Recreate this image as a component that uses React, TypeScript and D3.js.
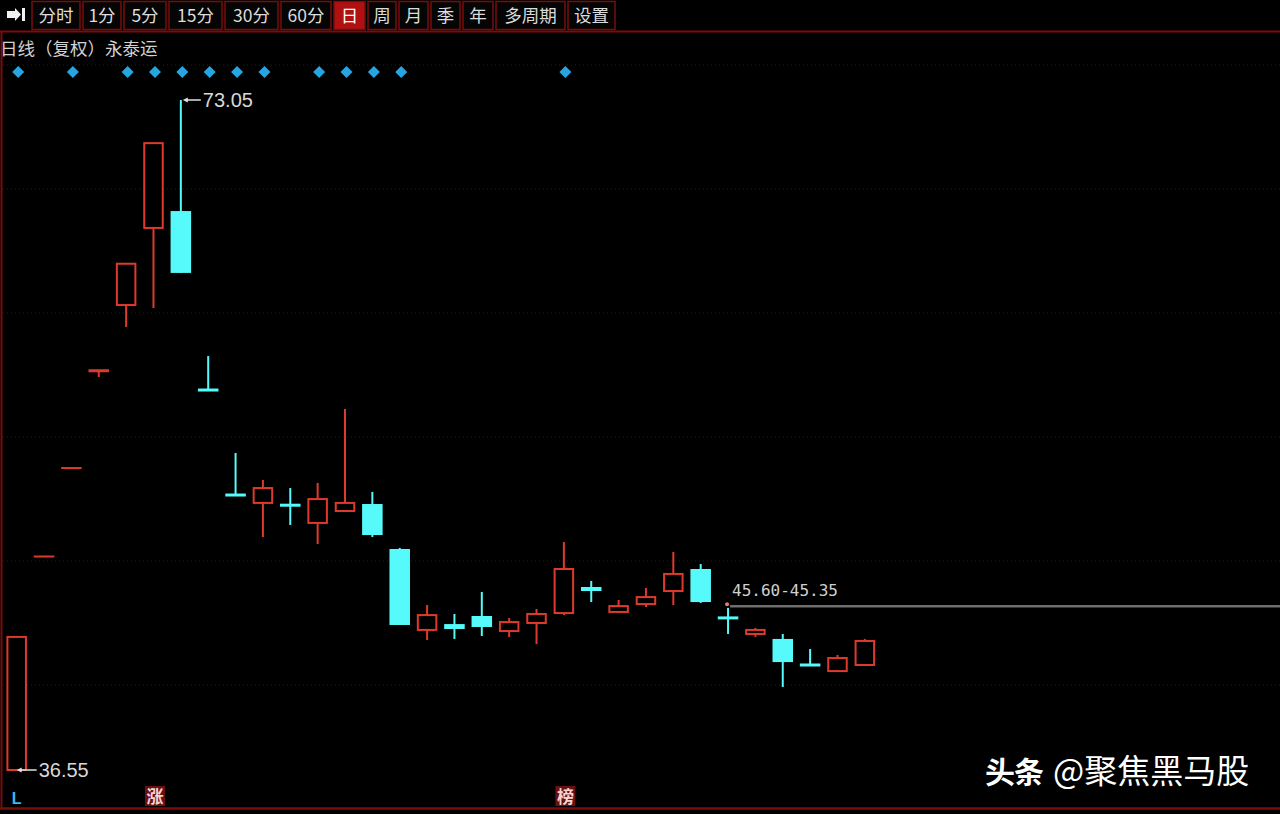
import React from "react";
import * as d3 from "d3";

// ---- data ----
const openP = [36.55, 48.18, 53.0, 58.3, 61.88, 66.08, 67.0, 57.25, 51.53, 51.1, 51.0, 50.01, 50.66, 51.04, 48.59, 44.18, 44.5, 44.94, 44.12, 44.56, 45.1, 46.52, 45.16, 45.59, 46.3, 47.5, 44.89, 43.96, 43.69, 42.27, 41.94, 42.27];
const highP = [43.8, 48.18, 53.0, 58.3, 64.13, 70.7, 73.05, 59.1, 53.82, 52.35, 51.91, 52.19, 56.22, 51.7, 48.65, 45.54, 45.05, 46.25, 44.83, 45.32, 48.97, 46.85, 45.81, 46.47, 48.43, 47.77, 45.38, 44.29, 43.96, 43.14, 42.82, 43.69];
const lowP = [36.55, 48.18, 53.0, 57.96, 60.68, 61.72, 63.63, 57.25, 51.53, 49.24, 49.9, 48.86, 50.66, 49.24, 44.45, 43.63, 43.69, 43.85, 43.8, 43.41, 44.99, 45.7, 45.16, 45.43, 45.54, 45.65, 43.96, 43.8, 41.07, 42.27, 41.94, 42.27];
const closeP = [43.8, 48.18, 53.0, 58.3, 64.13, 70.7, 63.63, 57.25, 51.53, 51.91, 50.95, 51.31, 51.1, 49.35, 44.45, 44.99, 44.23, 44.34, 44.61, 45.05, 47.5, 46.3, 45.48, 45.97, 47.23, 45.7, 44.78, 44.18, 42.43, 42.27, 42.65, 43.58];
const dayIndex = openP.map((_, i) => i);

const diamondDays = [0, 2, 4, 5, 6, 7, 8, 9, 11, 12, 13, 14, 20];
const bottomMarks = [
  { day: 0, text: "L", kind: "plain" },
  { day: 5, text: "涨", kind: "box" },
  { day: 20, text: "榜", kind: "box" },
];
const maxDay = 6;
const minDay = 0;
const gapDay = 26;
const gapHigh = 45.6;
const gapLow = 45.35;

const periodLabels = ["分时", "1分", "5分", "15分", "30分", "60分", "日", "周", "月", "季", "年", "多周期", "设置"];
const activePeriod = "日";
const titleText = "日线（复权）永泰运";
const watermarkBold = "头条";
const watermarkRest = "@聚焦黑马股";

// ---- layout ----
const W = 1280;
const H = 814;
const btnEdges = [[32, 80], [83, 121], [124, 166], [169, 222], [225, 278], [281, 331], [334, 365], [368, 396], [399, 428], [431, 460], [463, 493], [496, 565], [568, 615]];
const RED = "#dd3a2c";
const CYAN = "#56fafa";
const BORDER = "#7a0c0c";
const CJK = "'Noto Sans CJK SC', 'Noto Sans', sans-serif";

export default function App() {
  const x = d3.scaleBand<number>().domain(dayIndex).range([3, 3 + 27.36 * dayIndex.length]).paddingInner(0.25).paddingOuter(0.125);
  const y = d3.scaleLinear().domain([36.55, 73.05]).range([770, 100]);
  const bw = x.bandwidth();
  const cx = (i: number) => (x(i) as number) + bw / 2;

  const gridYs = d3.range(0, 6).map((k) => 65 + k * 124);

  const candles = dayIndex.map((i) => {
    const o = openP[i], c = closeP[i], h = highP[i], l = lowP[i];
    let up: boolean;
    if (c > o) up = true;
    else if (c < o) up = false;
    else up = i === 0 ? true : c >= closeP[i - 1];
    const color = up ? RED : CYAN;
    const top = y(Math.max(o, c));
    const bot = y(Math.min(o, c));
    const xc = cx(i);
    const xl = x(i) as number;
    const flat = h === l;
    return (
      <g key={i}>
        {!flat && <line x1={xc} x2={xc} y1={y(h)} y2={y(l)} stroke={color} strokeWidth={2} />}
        {flat ? (
          <line x1={xl} x2={xl + bw} y1={top} y2={top} stroke={color} strokeWidth={2} />
        ) : bot - top < 2.5 ? (
          <rect x={xl} y={(top + bot) / 2 - 1.5} width={bw} height={3} fill={color} />
        ) : up ? (
          <rect x={xl + 1} y={top} width={bw - 2} height={bot - top} fill="#000" stroke={color} strokeWidth={2} />
        ) : (
          <rect x={xl} y={top} width={bw} height={bot - top} fill={color} />
        )}
      </g>
    );
  });

  const maxX = cx(maxDay) + 2;
  const maxY = y(highP[maxDay]);
  const minX = cx(minDay);
  const minY = y(lowP[minDay]);
  const gapY = y((gapHigh + gapLow) / 2);
  const gapX = cx(gapDay);

  return (
    <svg width={W} height={H} style={{ position: "absolute", left: 0, top: 0, display: "block", background: "#000" }}>
      <rect x={0} y={0} width={W} height={H} fill="#000" />
      {/* toolbar */}
      <g>
        <path d="M7,11 L15,11 L15,8 L21,14.5 L15,21 L15,18 L7,18 Z" fill="#f0f0f0" />
        <rect x={22} y={8} width={3} height={13} fill="#f0f0f0" />
        {periodLabels.map((lab, k) => {
          const [a, b] = btnEdges[k];
          const active = lab === activePeriod;
          return (
            <g key={lab}>
              <rect x={a} y={1.5} width={b - a} height={28} fill={active ? "#b01010" : "#050505"} stroke={BORDER} strokeWidth={1.5} />
              <text x={(a + b) / 2} y={22} textAnchor="middle" fontFamily={CJK} fontSize={17.5} fill={active ? "#ffffff" : "#dcdcdc"}>{lab}</text>
            </g>
          );
        })}
        <line x1={0} x2={W} y1={31.5} y2={31.5} stroke={BORDER} strokeWidth={2} />
      </g>
      {/* frame */}
      <line x1={1.5} x2={1.5} y1={31} y2={809} stroke={BORDER} strokeWidth={2} />
      <line x1={0} x2={W} y1={808.5} y2={808.5} stroke={BORDER} strokeWidth={2.5} />
      <text x={0} y={55} fontFamily={CJK} fontSize={17.5} fill="#d2d2d2">{titleText}</text>
      {/* grid */}
      {gridYs.map((gy) => (
        <line key={gy} x1={3} x2={W} y1={gy} y2={gy} stroke="#5a0808" strokeWidth={1} strokeDasharray="1 3" />
      ))}
      {/* diamonds */}
      {diamondDays.map((d) => (
        <path key={d} transform={`translate(${cx(d) + 1.5},72)`} d="M0,-6 L6,0 L0,6 L-6,0 Z" fill="#25a6e2" />
      ))}
      {/* gap line */}
      <line x1={gapX + 2} x2={W} y1={gapY} y2={gapY} stroke="#6e6e6e" strokeWidth={2.5} />
      <circle cx={gapX - 1} cy={gapY - 2} r={2} fill="#e07a6a" />
      <text x={gapX + 4} y={gapY - 10} fontFamily="'DejaVu Sans Mono', monospace" fontSize={16} fill="#d0d0d0">{`${gapHigh.toFixed(2)}-${gapLow.toFixed(2)}`}</text>
      {/* candles */}
      {candles}
      {/* max/min labels */}
      <g>
        <path d={`M${maxX},${maxY} l5,-2.5 l0,5 Z`} fill="#e0e0e0" />
        <line x1={maxX + 4} x2={maxX + 18} y1={maxY} y2={maxY} stroke="#e0e0e0" strokeWidth={1.5} />
        <text x={maxX + 20} y={maxY + 7} fontFamily="'Liberation Sans', Arial, sans-serif" fontSize={20} fill="#d8d8d8">{highP[maxDay].toFixed(2)}</text>
        <path d={`M${minX},${minY} l5,-2.5 l0,5 Z`} fill="#e0e0e0" />
        <line x1={minX + 4} x2={minX + 20} y1={minY} y2={minY} stroke="#e0e0e0" strokeWidth={1.5} />
        <text x={minX + 22} y={minY + 7} fontFamily="'Liberation Sans', Arial, sans-serif" fontSize={20} fill="#d8d8d8">{lowP[minDay].toFixed(2)}</text>
      </g>
      {/* bottom markers */}
      {bottomMarks.map((m) =>
        m.kind === "plain" ? (
          <text key={m.day} x={cx(m.day)} y={804} textAnchor="middle" fontFamily="'Liberation Sans', Arial, sans-serif" fontWeight="bold" fontSize={16} fill="#3ab8f0">{m.text}</text>
        ) : (
          <g key={m.day}>
            <rect x={cx(m.day) + 1.5 - 10} y={786} width={20} height={20} fill="#6a1010" />
            <text x={cx(m.day) + 1.5} y={803} textAnchor="middle" fontFamily={CJK} fontWeight="bold" fontSize={17} fill="#f4d4d4">{m.text}</text>
          </g>
        )
      )}
      {/* watermark */}
      <text x={985} y={783} fontFamily={CJK} fill="#ffffff">
        <tspan fontWeight="bold" fontSize={30} letterSpacing={-1}>{watermarkBold}</tspan>
        <tspan dx={10} fontSize={33}>{watermarkRest}</tspan>
      </text>
    </svg>
  );
}
